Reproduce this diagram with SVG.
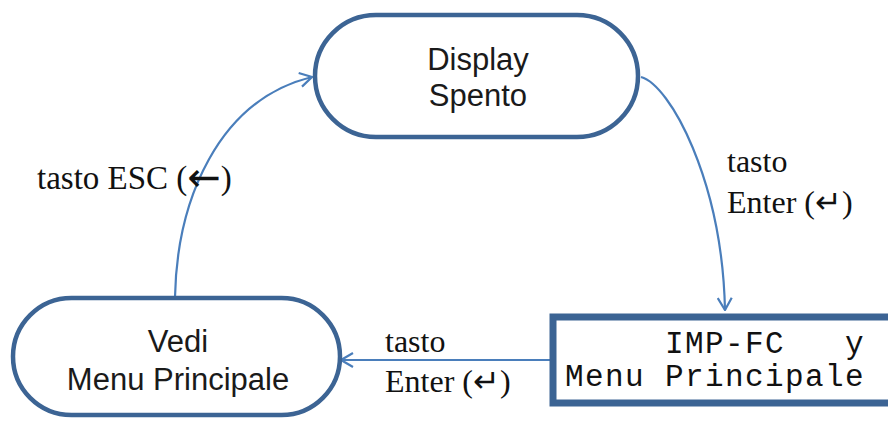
<svg xmlns="http://www.w3.org/2000/svg" width="888" height="421" viewBox="0 0 888 421">
<style>
.node{fill:#fff;stroke:#3c6494;stroke-width:4.5}
.box{fill:#fff;stroke:#3c6494;stroke-width:7}
.conn{fill:none;stroke:#4a7ebb;stroke-width:2.2}
.sans{font-family:"Liberation Sans",Arial,sans-serif;font-size:31px;fill:#1a1a1a;text-anchor:middle}
.serif{font-family:"Liberation Serif","Times New Roman",serif;font-size:32px;fill:#111}
.sym{font-family:"DejaVu Sans",sans-serif;font-size:40px}
.mono{font-family:"Liberation Mono","DejaVu Sans Mono",monospace;font-size:31px;letter-spacing:1.4px;fill:#111}
</style>
<defs>
<marker id="arr" viewBox="0 0 14 16" refX="13" refY="8" markerWidth="14" markerHeight="16" markerUnits="userSpaceOnUse" orient="auto">
<path d="M1,1 L13,8 L1,15" fill="none" stroke="#4a7ebb" stroke-width="2.2"/>
</marker>
</defs>
<g id="connectors">
<path class="conn" d="M641,77 C670,85 722,180 725,310" marker-end="url(#arr)"/>
<path class="conn" d="M551,360 L341,360" marker-end="url(#arr)"/>
<path class="conn" d="M175,297 C177,200 218,100 312,77" marker-end="url(#arr)"/>
</g>
<g id="node-display">
<rect class="node" x="315" y="15" width="323" height="122" rx="61"/>
<text class="sans" x="478" y="70">Display</text>
<text class="sans" x="478" y="106">Spento</text>
</g>
<g id="node-vedi">
<rect class="node" x="13" y="298" width="327" height="117" rx="58.5"/>
<text class="sans" x="178" y="352">Vedi</text>
<text class="sans" x="178" y="390">Menu Principale</text>
</g>
<g id="node-lcd">
<rect class="box" x="553" y="317" width="360" height="86"/>
<text class="mono" x="565" y="353" xml:space="preserve">     IMP-FC   y</text>
<text class="mono" x="565" y="386" xml:space="preserve">Menu Principale</text>
</g>
<g id="labels">
<text class="serif" x="37" y="189" style="font-size:33px">tasto ESC (<tspan class="sym" dy="2">←</tspan><tspan dy="-2">)</tspan></text>
<text class="serif" x="727" y="172">tasto</text>
<text class="serif" x="727" y="213">Enter (↵)</text>
<text class="serif" x="385" y="352">tasto</text>
<text class="serif" x="385" y="392">Enter (↵)</text>
</g>
</svg>
